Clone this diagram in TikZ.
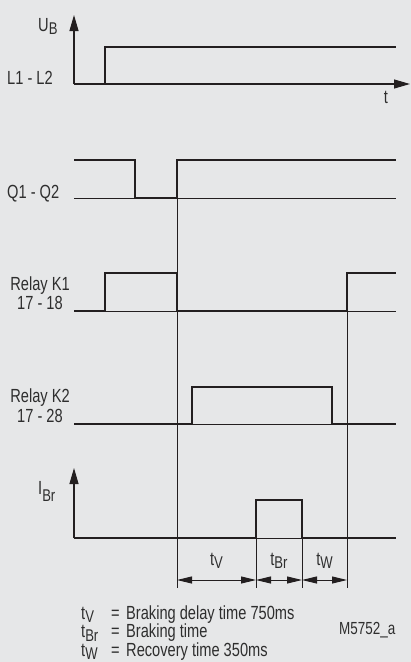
\documentclass[tikz,border=0pt]{standalone}
\usepackage{fontspec}
\setmainfont{Liberation Sans}[FakeStretch=0.77]
\usetikzlibrary{arrows.meta}
\definecolor{bg}{HTML}{E6E7E8}
\definecolor{ink}{HTML}{231F20}
\definecolor{txt}{HTML}{2E2E2E}
\newcommand{\lowsub}[2][3.5pt]{\raisebox{-#1}{\fontsize{17}{17}\selectfont #2}}
\begin{document}
\begin{tikzpicture}[x=1pt,y=-1pt,
  sig/.style={line width=2.4pt, draw=ink, line join=miter},
  baseln/.style={line width=0.9pt, draw=ink},
  axisarrow/.style={line width=1.1pt, draw=ink, -{Triangle[length=16pt,width=9pt]}},
  guide/.style={line width=0.9pt, draw=ink},
  dimline/.style={line width=0.9pt, draw=ink, {Triangle[length=15pt,width=7pt]}-{Triangle[length=15pt,width=7pt]}},
  lbl/.style={font=\fontsize{19}{21}\selectfont, text=txt, inner sep=0pt}]
\fill[bg] (0,0) rectangle (411,662);
\useasboundingbox (0,0) rectangle (411,662);

% ---- U_B / L1-L2 ----
\coordinate (o1) at (74,84);
\coordinate (ytip1) at (74,15);
\coordinate (xtip1) at (410,84);
\draw[axisarrow] (o1) -- (ytip1);
\draw[axisarrow] (o1) -- (xtip1);
\draw[sig] (74,84) -- (105,84) -- (105,47) -- (396,47);
\node[lbl, anchor=base west] (ub) at (38,31.5) {U\lowsub[3pt]{B}};
\node[lbl, anchor=base west] (l1l2) at (7,84) {L1 - L2};
\node[lbl, anchor=base] (tlab) at (386,103) {t};

% ---- Q1-Q2 ----
\draw[baseln] (74,198) -- (396,198);
\draw[sig] (74,160) -- (135,160) -- (135,198) -- (177,198) -- (177,160) -- (396,160);
\node[lbl, anchor=base west] (q1q2) at (7,198) {Q1 - Q2};

% ---- Relay K1 ----
\draw[baseln] (74,311) -- (396,311);
\draw[sig] (74,311) -- (105,311) -- (105,273) -- (177,273) -- (177,311) -- (347,311) -- (347,273) -- (396,273);
\node[lbl, anchor=base] (k1a) at (40,290) {Relay K1};
\node[lbl, anchor=base] (k1b) at (40,309) {17 - 18};

% ---- Relay K2 ----
\draw[baseln] (74,424) -- (396,424);
\draw[sig] (74,424) -- (192,424) -- (192,387) -- (332,387) -- (332,424) -- (396,424);
\node[lbl, anchor=base] (k2a) at (40,402) {Relay K2};
\node[lbl, anchor=base] (k2b) at (40,422.5) {17 - 28};

% ---- I_Br ----
\coordinate (o5) at (74,538);
\coordinate (ytip5) at (74,468);
\draw[axisarrow] (o5) -- (ytip5);
\draw[baseln] (74,538) -- (396,538);
\draw[sig] (74,538) -- (256,538) -- (256,500) -- (302,500) -- (302,538) -- (396,538);
\node[lbl, anchor=base west] (ibr) at (38,494) {I\lowsub[7pt]{Br}};

% ---- guide lines ----
\coordinate (ga) at (177,198);
\coordinate (gb) at (347,311);
\coordinate (gc) at (256,500);
\coordinate (gd) at (302,500);
\coordinate (ga2) at (177,588);
\coordinate (gb2) at (347,588);
\coordinate (gc2) at (256,588);
\coordinate (gd2) at (302,588);
\draw[guide] (ga) -- (ga2);
\draw[guide] (gb) -- (gb2);
\draw[guide] (gc) -- (gc2);
\draw[guide] (gd) -- (gd2);

% ---- dimensions ----
\coordinate (da) at (177,580);
\coordinate (dc) at (256,580);
\coordinate (dd) at (302,580);
\coordinate (db) at (347,580);
\draw[dimline] (da) -- (dc);
\draw[dimline] (dc) -- (dd);
\draw[dimline] (dd) -- (db);
\node[lbl, anchor=base] (tv) at (216.5,565) {t\lowsub{V}};
\node[lbl, anchor=base] (tbr) at (279,565) {t\lowsub{Br}};
\node[lbl, anchor=base] (tw) at (324.5,565) {t\lowsub{W}};

% ---- legend ----
\node[lbl, anchor=base west] (l1s) at (81,619) {t\lowsub{V}};
\node[lbl, anchor=base west] (l1e) at (111,619) {=};
\node[lbl, anchor=base west] (l1t) at (126,619) {Braking delay time 750ms};
\node[lbl, anchor=base west] (l2s) at (81,637.5) {t\lowsub{Br}};
\node[lbl, anchor=base west] (l2e) at (111,637.5) {=};
\node[lbl, anchor=base west] (l2t) at (126,637.5) {Braking time};
\node[lbl, anchor=base west] (l3s) at (81,656) {t\lowsub{W}};
\node[lbl, anchor=base west] (l3e) at (111,656) {=};
\node[lbl, anchor=base west] (l3t) at (126,656) {Recovery time 350ms};
\node[lbl, anchor=base west, font=\fontsize{17.5}{19}\selectfont] (code) at (339,634) {M5752\_a};
\end{tikzpicture}
\end{document}
